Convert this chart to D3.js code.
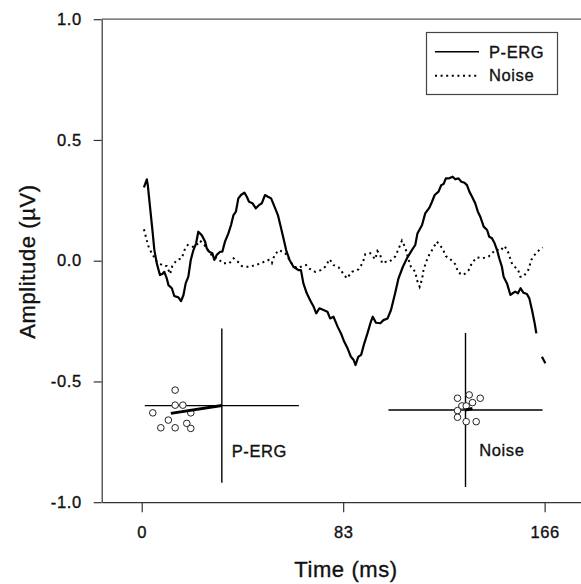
<!DOCTYPE html>
<html>
<head>
<meta charset="utf-8">
<script src="https://cdn.jsdelivr.net/npm/d3@7"></script>
<style>
  body { margin: 0; background: #fff; }
  text { font-family: "Liberation Sans", Arial, sans-serif; fill: #111; stroke: #111; stroke-width: 0.35px; }
</style>
</head>
<body>
<div id="chart"></div>
<script>
// waveform data (time in ms, amplitude in µV)
const pergTime = [0.9,2.1,2.5,3.4,4.4,5.2,6.2,7.5,8.5,9.3,10.3,11.0,12.4,13.4,15.1,16.2,17.2,18.1,19.2,20.2,21.3,22.4,23.3,24.7,26.1,26.8,27.8,29.1,29.9,30.9,32.3,33.2,34.3,35.7,36.8,37.8,38.8,39.8,40.9,42.3,43.3,44.2,45.6,47.0,48.4,49.5,50.8,52.0,53.3,54.7,56.1,57.1,58.7,59.5,60.9,62.5,64.6,65.6,66.6,68.0,69.7,70.8,71.9,73.2,74.9,76.5,77.6,79.0,80.7,82.1,83.4,84.8,86.2,87.3,88.1,89.2,90.4,91.7,93.0,94.4,95.2,96.5,98.3,99.6,101.3,102.7,104.4,105.8,107.6,109.3,111.3,112.7,113.6,115.5,116.8,118.6,119.6,120.7,122.3,123.4,124.4,125.3,126.7,128.1,129.2,130.5,131.7,133.0,134.0,135.0,136.1,137.4,138.5,139.5,140.9,142.3,143.2,144.3,145.4,146.4,147.3,148.4,149.1,150.5,151.9,152.8,153.9,155.0,156.1,157.3,158.7,159.7,160.8,161.9,162.6,163.8,164.9,166.3]
const pergAmp = [0.304,0.337,0.313,0.224,0.127,0.044,-0.011,-0.059,-0.055,-0.046,-0.073,-0.101,-0.114,-0.146,-0.152,-0.167,-0.142,-0.094,-0.066,0.003,0.044,0.072,0.120,0.106,0.079,0.051,0.037,0.031,0.003,0.024,0.037,0.037,0.079,0.113,0.148,0.189,0.203,0.258,0.272,0.282,0.265,0.244,0.238,0.217,0.231,0.238,0.272,0.265,0.258,0.224,0.189,0.148,0.079,0.044,0.003,-0.025,-0.039,-0.039,-0.094,-0.135,-0.170,-0.190,-0.218,-0.197,-0.204,-0.211,-0.239,-0.232,-0.273,-0.301,-0.335,-0.363,-0.398,-0.411,-0.432,-0.398,-0.390,-0.342,-0.301,-0.253,-0.232,-0.257,-0.259,-0.246,-0.239,-0.204,-0.135,-0.073,-0.025,0.010,0.044,0.065,0.113,0.148,0.196,0.221,0.244,0.272,0.286,0.313,0.318,0.341,0.341,0.348,0.337,0.341,0.327,0.323,0.313,0.286,0.265,0.238,0.203,0.182,0.141,0.127,0.099,0.093,0.072,0.044,0.010,-0.025,-0.066,-0.094,-0.142,-0.135,-0.128,-0.135,-0.114,-0.133,-0.138,-0.156,-0.204,-0.259,-0.301,null,-0.398,-0.425]

const noiseTime = [0.9,1.8,2.7,4.1,6.2,8.9,10.3,11.7,12.6,14.4,16.5,17.6,19.0,20.6,22.0,24.0,25.8,27.2,29.1,31.6,33.6,36.1,37.8,39.2,41.2,42.9,44.7,46.7,49.2,51.1,52.2,53.6,54.7,56.6,59.1,61.8,63.9,67.7,68.7,71.5,73.8,75.6,77.4,79.0,81.1,82.5,84.5,86.6,89.3,91.1,92.1,94.1,96.2,97.1,98.3,99.0,100.7,102.1,104.4,105.8,107.2,108.6,109.5,110.9,112.7,113.4,114.5,115.5,116.1,117.2,118.6,119.8,121.6,123.9,125.3,127.5,129.2,130.5,132.6,134.7,136.1,138.1,140.4,142.9,144.3,146.0,147.7,149.5,150.9,152.6,153.9,155.0,156.0,157.3,159.4,160.5,161.5,162.9,165.2]
const noiseAmp = [0.130,0.095,0.061,0.031,-0.004,-0.022,-0.022,-0.055,-0.022,0.003,0.010,0.044,0.065,0.058,0.058,0.083,0.065,0.044,0.019,0.006,-0.011,-0.011,0.010,0.000,-0.022,-0.025,-0.025,-0.018,-0.011,0.000,0.003,-0.011,0.024,0.044,0.031,-0.011,-0.031,-0.018,-0.031,-0.046,-0.039,-0.025,0.006,-0.018,-0.027,-0.046,-0.073,-0.046,-0.036,-0.008,0.027,0.031,0.006,0.040,0.024,-0.011,-0.004,-0.004,0.017,0.048,0.083,0.054,0.019,-0.025,-0.046,-0.080,-0.108,-0.077,-0.039,-0.004,0.028,0.047,0.079,0.051,0.019,0.003,-0.015,-0.050,-0.059,-0.039,-0.008,0.014,0.010,0.017,0.031,0.047,0.041,0.061,0.037,-0.014,-0.027,-0.036,-0.066,-0.066,-0.036,0.003,0.019,0.037,0.055]

// ticks
const xTicks = [0, 83, 166]
const yTicks = [-1, -0.5, 0, 0.5, 1]

// vector insets: single sweeps (cos, sin components) and their mean
const pergSweepX = [-0.606,-0.606,-0.506,-0.896,-0.403,-0.694,-0.455,-0.792,-0.606,-0.403]
const pergSweepY = [0.201,0.006,0.006,-0.094,-0.094,-0.188,-0.231,-0.288,-0.288,-0.296]
const pergMean = [-0.662, -0.101]
const noiseSweepX = [0.048,-0.104,0.191,0.091,-0.047,0.009,-0.104,-0.104,0.009,0.139]
const noiseSweepY = [0.195,0.152,0.152,0.095,0.052,0.052,-0.009,-0.095,-0.152,-0.152]
const noiseMean = [0.09, 0.02]

// props
const chartWidth = 581
const chartHeight = 584
const plotLeft = 101.7
const plotTop = 19.2
const plotBottom = 502.2

const svg = d3.select("#chart")
  .append("svg")
  .attr("width", chartWidth)
  .attr("height", chartHeight)

const x = d3.scaleLinear()
  .domain([-16.5, 184.7])
  .range([plotLeft, 590])

const y = d3.scaleLinear()
  .domain([-1, 1])
  .range([plotBottom, plotTop])

// axes
const fmt = d => d3.format(".1f")(d).replace("−", "-")

svg.append("g")
  .attr("transform", `translate(${plotLeft}, 0)`)
  .call(d3.axisLeft(y).tickValues(yTicks).tickFormat(fmt).tickSize(8).tickSizeOuter(0).tickPadding(12))
  .call(g => g.selectAll("text").style("font-size", "16.5px").style("letter-spacing", "0.6px").attr("fill", "#111"))

svg.append("g")
  .attr("transform", `translate(0, ${plotBottom})`)
  .call(d3.axisBottom(x).tickValues(xTicks).tickFormat(d3.format("d")).tickSize(10).tickSizeOuter(0).tickPadding(14))
  .call(g => g.selectAll("text").style("font-size", "16.5px").style("letter-spacing", "0.6px").attr("fill", "#111"))

svg.selectAll(".domain, .tick line").attr("stroke", "#333").attr("stroke-width", 1.2)

// top frame line
svg.append("line")
  .attr("x1", plotLeft).attr("x2", chartWidth)
  .attr("y1", y(1)).attr("y2", y(1))
  .attr("stroke", "#555").attr("stroke-width", 1.2)

// axis titles
svg.append("text")
  .attr("x", 346)
  .attr("y", 577)
  .attr("text-anchor", "middle")
  .style("font-size", "22px")
  .style("letter-spacing", "0.6px")
  .text("Time (ms)")

svg.append("text")
  .attr("transform", `translate(35, 261.5) rotate(-90)`)
  .attr("text-anchor", "middle")
  .style("font-size", "22px")
  .style("letter-spacing", "0.6px")
  .text("Amplitude (µV)")

// traces
const perg = pergTime.map((t, i) => ({ t, v: pergAmp[i] }))
const noise = noiseTime.map((t, i) => ({ t, v: noiseAmp[i] }))

const line = d3.line()
  .defined(d => d.v != null)
  .x(d => x(d.t))
  .y(d => y(d.v))

svg.append("path")
  .datum(noise)
  .attr("d", line)
  .attr("fill", "none")
  .attr("stroke", "#000")
  .attr("stroke-width", 2)
  .attr("stroke-dasharray", "2,3.6")

svg.append("path")
  .datum(perg)
  .attr("d", line)
  .attr("fill", "none")
  .attr("stroke", "#000")
  .attr("stroke-width", 2.2)
  .attr("stroke-linejoin", "round")

// vector insets, centred at a point of the main axes
const insets = [
  { cx: 33.0, cy: -0.600, sx: pergSweepX, sy: pergSweepY, mean: pergMean, label: "P-ERG", lx: 231.7, ly: 456.7 },
  { cx: 133.4, cy: -0.618, sx: noiseSweepX, sy: noiseSweepY, mean: noiseMean, label: "Noise", lx: 479.3, ly: 455.7 }
]

insets.forEach(ins => {
  const ix = d3.scaleLinear().domain([-1, 1]).range([x(ins.cx - 31.75), x(ins.cx + 31.75)])
  const iy = d3.scaleLinear().domain([-1, 1]).range([y(ins.cy - 0.319), y(ins.cy + 0.319)])
  const g = svg.append("g")

  g.append("line")
    .attr("x1", ix(-1)).attr("x2", ix(1))
    .attr("y1", iy(0)).attr("y2", iy(0))
    .attr("stroke", "#000").attr("stroke-width", 1.4)
  g.append("line")
    .attr("x1", ix(0)).attr("x2", ix(0))
    .attr("y1", iy(-1)).attr("y2", iy(1))
    .attr("stroke", "#000").attr("stroke-width", 1.4)

  g.selectAll("circle")
    .data(ins.sx.map((v, i) => [v, ins.sy[i]]))
    .enter()
    .append("circle")
    .attr("cx", d => ix(d[0]))
    .attr("cy", d => iy(d[1]))
    .attr("r", 3.3)
    .attr("fill", "#fff")
    .attr("stroke", "#222")
    .attr("stroke-width", 1)

  g.append("line")
    .attr("x1", ix(0)).attr("y1", iy(0))
    .attr("x2", ix(ins.mean[0])).attr("y2", iy(ins.mean[1]))
    .attr("stroke", "#000").attr("stroke-width", 3)

  g.append("text")
    .attr("x", ins.lx)
    .attr("y", ins.ly)
    .style("font-size", "16.5px")
    .style("letter-spacing", "0.6px")
    .text(ins.label)
})

// legend
const legend = svg.append("g")

legend.append("rect")
  .attr("x", 426.5).attr("y", 32.5)
  .attr("width", 131).attr("height", 62)
  .attr("fill", "#fff")
  .attr("stroke", "#444").attr("stroke-width", 1.2)

const legendItems = [
  { label: "P-ERG", dash: null, w: 1.6, ly: 51.7, ty: 58.3 },
  { label: "Noise", dash: "2,3.6", w: 2, ly: 75.7, ty: 81 }
]

legendItems.forEach(item => {
  legend.append("line")
    .attr("x1", 435).attr("x2", 479)
    .attr("y1", item.ly).attr("y2", item.ly)
    .attr("stroke", "#000")
    .attr("stroke-width", item.w)
    .attr("stroke-dasharray", item.dash)
  legend.append("text")
    .attr("x", 489)
    .attr("y", item.ty)
    .style("font-size", "16.5px")
    .style("letter-spacing", "0.6px")
    .text(item.label)
})
</script>
</body>
</html>
